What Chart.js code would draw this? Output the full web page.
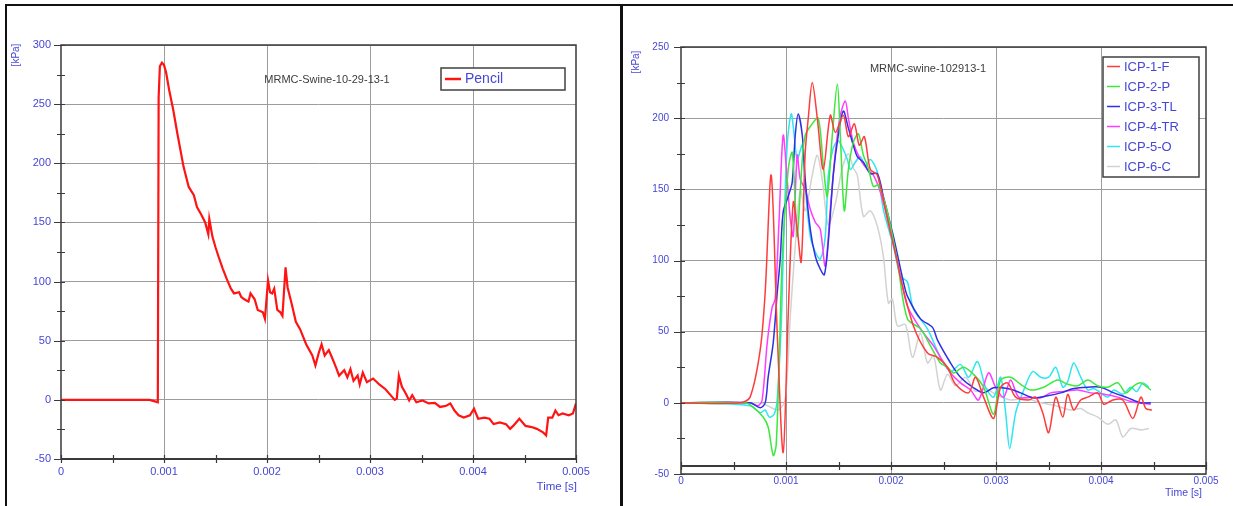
<!DOCTYPE html>
<html><head><meta charset="utf-8">
<script src="https://cdn.jsdelivr.net/npm/chart.js@4.4.1/dist/chart.umd.min.js"></script>
<style>
html,body{margin:0;padding:0;background:#fff;width:1233px;height:506px;overflow:hidden;}
.pane{position:absolute;top:0;height:506px;}
#p1{left:0;width:620px}
#p2{left:622px;width:611px}
.ln{position:absolute;background:#111;}
</style></head><body>
<div class="ln" style="left:5px;top:4px;width:1228px;height:2px"></div>
<div class="ln" style="left:5px;top:4px;width:2px;height:502px"></div>
<div class="ln" style="left:620px;top:4px;width:3px;height:502px"></div>
<div class="pane" id="p1"><canvas id="c1" width="620" height="506"></canvas></div>
<div class="pane" id="p2"><canvas id="c2" width="611" height="506"></canvas></div>
<script>
// ---------- DATA: left panel ----------
const leftTitle = 'MRMC-Swine-10-29-13-1';
const pencilLabel = 'Pencil';
const pencilT = [0,0.0005,0.00086,0.00092,0.00094,0.000948,0.00096,0.00098,0.001,0.00102,0.00105,0.00109,0.00113,0.00119,0.00124,0.00129,0.00132,0.00136,0.0014,0.00143,0.00144,0.00147,0.0015,0.00153,0.00157,0.00161,0.00165,0.00168,0.00173,0.00175,0.00178,0.00182,0.00184,0.00188,0.00191,0.00196,0.00198,0.00201,0.00203,0.00205,0.00207,0.0021,0.00213,0.00215,0.00218,0.0022,0.00224,0.00228,0.00232,0.00238,0.00244,0.00247,0.0025,0.00253,0.00256,0.0026,0.00263,0.00267,0.0027,0.00275,0.00278,0.00281,0.00284,0.00288,0.0029,0.00293,0.00297,0.00303,0.00309,0.00315,0.0032,0.00324,0.00326,0.00328,0.00331,0.00335,0.00338,0.00341,0.00345,0.00351,0.00357,0.00363,0.00368,0.00374,0.00378,0.00382,0.00386,0.00391,0.00397,0.00401,0.00405,0.00411,0.00416,0.0042,0.00426,0.00432,0.00436,0.00439,0.00445,0.00451,0.00457,0.00462,0.00468,0.00471,0.00473,0.00477,0.0048,0.00483,0.00487,0.00493,0.00497,0.005];
const pencilV = [0,0,0,-1.5,-2,256,282,285,283,277,262,245,225,197,180,173,163,157,150,140,153,138,129,121,111,102,94,90,91,87,85,83,90,85,76,74,68.5,101,91,90,94,76,74,71,112,95,81,66,60,47,37.5,29,39,47,37.5,42,36,27.5,20.5,25,19,26,16,20.5,13,23,15,18,13,9,4,0,1,20.5,11,5,-0.5,4,-2,-0.5,-3,-2.5,-6,-5,-3,-9,-13,-15,-13,-7.5,-16,-15,-16,-20.5,-19,-20.5,-24.5,-22,-16,-22,-23,-24.5,-27.5,-30,-15,-15,-9,-13,-11.5,-13,-11.5,-3];
const leftYTicks = {min:-50, max:300, major:50, minor:25};
const leftXTicks = {min:0, max:0.005, major:0.001, minor:0.0005};

// ---------- DATA: right panel ----------
const rightTitle = 'MRMC-swine-102913-1';
const icpLabels = ['ICP-1-F','ICP-2-P','ICP-3-TL','ICP-4-TR','ICP-5-O','ICP-6-C'];
const icp1T = [0,0.000563,0.000658,0.000754,0.000802,0.000859,0.000916,0.000973,0.00102,0.001069,0.001107,0.001145,0.001183,0.001212,0.00125,0.001298,0.001355,0.001422,0.00147,0.001546,0.001594,0.001651,0.001698,0.001746,0.001803,0.00187,0.001966,0.002061,0.00209,0.002214,0.002347,0.002443,0.002538,0.002615,0.002739,0.002805,0.002882,0.002977,0.003044,0.003111,0.003187,0.003311,0.003378,0.003445,0.003502,0.003569,0.003636,0.003683,0.00374,0.003807,0.003874,0.003969,0.004027,0.004113,0.004208,0.004303,0.00438,0.004427,0.004485];
const icp1V = [0,0,4,37,78,160,50,-35,60,141,122,99,176,200,225,200,164,202,190,202,187,196,181,187,164,160,129,99,88,54,35,32,25,13,7,18,4,-11,11,14,4,2,4,-7,-21,4,-10,6,-5,2,4,7,-1,2,2,-11,4,-4,-5];
const icp2T = [0,0.00061,0.000687,0.000782,0.00083,0.000878,0.000906,0.000935,0.000964,0.001021,0.001059,0.001088,0.001107,0.001155,0.001183,0.00124,0.001307,0.001355,0.001393,0.001441,0.001489,0.001517,0.001555,0.001594,0.001641,0.001689,0.001737,0.001784,0.001832,0.00188,0.001966,0.002061,0.002156,0.002281,0.002376,0.002471,0.002538,0.002595,0.002691,0.002786,0.002882,0.002977,0.003044,0.003139,0.003235,0.00333,0.003454,0.003588,0.003683,0.003779,0.003874,0.003969,0.004065,0.00416,0.004237,0.004313,0.00438,0.004475];
const icp2V = [0,0,-3,-10,-17,-37,-30,30,101,164,176,141,117,171,188,195,200,167,145,188,224,188,135,164,183,189,174,165,152,153,134,99,59,52,40,28,25,21,25,20,11,-8,16,18,13,9,11,16,13,12,16,12,11,14,7,12,14,9];
const icp3T = [0,0.000658,0.000754,0.000802,0.00083,0.000878,0.000916,0.000945,0.000973,0.001021,0.001059,0.001088,0.001116,0.001155,0.001183,0.001231,0.001279,0.001326,0.001365,0.001403,0.00145,0.001498,0.001546,0.001594,0.001641,0.001679,0.001737,0.001803,0.00187,0.001927,0.002023,0.002118,0.002156,0.002281,0.002395,0.002443,0.002567,0.002662,0.002786,0.002882,0.002977,0.003111,0.003235,0.003359,0.003492,0.003616,0.00374,0.003874,0.003998,0.004122,0.004256,0.00438,0.004475];
const icp3V = [0,0,-3.5,0,18,42,77,101,134,145,155,188,203,188,157,122,103,94,90,113,160,188,205,193,181,173,169,161,161,145,117,85,75,59,53,44,28,18,10.6,7,10.6,10,7,3.5,5,7,10,11,11,7,3.5,0,0];
const icp4T = [0,0.000658,0.000735,0.000773,0.000821,0.000868,0.000897,0.000935,0.000973,0.001011,0.00104,0.001069,0.001107,0.001136,0.001183,0.001231,0.001279,0.001326,0.001374,0.001422,0.00147,0.001517,0.001565,0.001594,0.001641,0.001708,0.001775,0.001832,0.001899,0.001994,0.00209,0.002156,0.002281,0.002405,0.002471,0.002567,0.002662,0.002758,0.002834,0.002929,0.002996,0.003073,0.003139,0.003216,0.00333,0.003426,0.003521,0.003645,0.003779,0.003903,0.004027,0.00416,0.004284,0.004475];
const icp4V = [0,0,-2,2,42,67,73,130,188,157,130,117,174,157,150,136,127,122,96,136,176,202,212,200,183,171,164,160,148,122,89,68,52,40,32,21,14,9,2,21,11,4,16,4,4,3.5,7,8,9,7,6,4,1,-1];
const icp5T = [0,0.000658,0.000754,0.000802,0.00084,0.000887,0.000916,0.000954,0.000973,0.001011,0.00105,0.001078,0.001107,0.001155,0.001183,0.001231,0.001279,0.001326,0.001374,0.001403,0.00145,0.001498,0.001546,0.001584,0.001613,0.00166,0.001708,0.001756,0.001803,0.00187,0.001927,0.002023,0.00209,0.002156,0.002214,0.002347,0.002471,0.002567,0.002662,0.002739,0.002824,0.002901,0.002977,0.003044,0.003092,0.00313,0.003187,0.003254,0.003349,0.003426,0.003502,0.003569,0.003636,0.003683,0.00374,0.003807,0.003874,0.003931,0.003998,0.004065,0.004122,0.004208,0.004284,0.00434,0.004399,0.004456];
const icp5V = [0,-2,-7,-5,-10,-8,2,54,101,181,203,188,171,181,152,117,106,101,117,160,179,184,178,171,164,169,173,166,171,162,136,110,89,85,66,52,32,22,27,18,29,11,4,18,-7,-32,-7,7,22,18,18,25,11,15,28,18,9,10,7,4,9,6,11,8,14,11];
const icp6T = [0,0.000754,0.00085,0.000926,0.000992,0.00104,0.001088,0.001136,0.001183,0.00125,0.001298,0.001345,0.001403,0.00147,0.001536,0.001594,0.001641,0.001679,0.001737,0.001803,0.00187,0.001927,0.001975,0.002013,0.002061,0.002137,0.002204,0.002281,0.002347,0.002405,0.002471,0.002538,0.002615,0.00271,0.002805,0.002901,0.002996,0.003139,0.003282,0.003426,0.003569,0.003712,0.003807,0.003874,0.003969,0.004065,0.004141,0.004208,0.004284,0.00438,0.004456];
const icp6V = [0,0,-3,-5,2,60,110,150,135,160,174,157,125,140,165,175,165,160,131,135,124,103,70,73,54,55,32,49,28,33,9,20,12,18,8,10,6,2,3,0,-2,-5,-4,-7,-10,-15,-12,-24,-18,-19,-18];
const icpColors = ['#ff3b3b','#3ce83c','#2f2fe6','#ff3cff','#2ee6f0','#d2d2d2'];
const rightYTicks = {min:-50, max:250, major:50, minor:25};
const rightXTicks = {min:0, max:0.005, major:0.001, minor:0.0005};

const yUnit = '[kPa]';
const xUnit = 'Time [s]';

// ---------- helpers ----------
const zip = (t, v) => t.map((x, i) => ({x: x, y: v[i]}));
const isMajor = (v, step) => Math.abs(Math.round(v / step) * step - v) < step * 1e-6;
const TICK_BLUE = '#4646d6';
const GRID = '#9c9c9c';
const BOX = '#3a3a3a';

const deco = {
  id: 'deco',
  afterDatasetsDraw(chart, args, o) {
    const ctx = chart.ctx, a = chart.chartArea, xs = chart.scales.x, ys = chart.scales.y;
    ctx.save();
    const axY = (o.xAxisAt == null) ? a.bottom : ys.getPixelForValue(o.xAxisAt);
    ctx.lineWidth = 1.5; ctx.strokeStyle = BOX;
    ctx.beginPath();
    ctx.moveTo(a.left, a.bottom); ctx.lineTo(a.left, a.top); ctx.lineTo(a.right, a.top); ctx.lineTo(a.right, a.bottom);
    ctx.lineTo(a.left, a.bottom);
    ctx.stroke();
    ctx.beginPath(); ctx.lineWidth = 2; ctx.moveTo(a.left, axY); ctx.lineTo(a.right, axY); ctx.stroke();
    ctx.lineWidth = 1.2;
    ctx.beginPath();
    ys.ticks.forEach(t => {
      const y = Math.round(ys.getPixelForValue(t.value)) + 0.5;
      const mj = isMajor(t.value, o.yMajor);
      ctx.moveTo(a.left - (mj ? 7 : 4), y); ctx.lineTo(a.left + 4, y);
    });
    xs.ticks.forEach(t => {
      const x = Math.round(xs.getPixelForValue(t.value)) + 0.5;
      ctx.moveTo(x, axY - 4); ctx.lineTo(x, axY + 4);
    });
    ctx.stroke();
    ctx.restore();
  },
  afterDraw(chart, args, o) {
    const ctx = chart.ctx, a = chart.chartArea;
    ctx.save();
    // title inside plot
    ctx.fillStyle = '#3c3c3c';
    ctx.font = '11px "Liberation Sans", Arial, sans-serif';
    ctx.textAlign = 'center'; ctx.textBaseline = 'middle';
    ctx.fillText(o.title, o.titleX, o.titleY);
    // axis units
    ctx.fillStyle = TICK_BLUE;
    ctx.font = o.unitFont;
    ctx.textAlign = 'right';
    ctx.fillText(xUnit, o.xUnitX, o.xUnitY);
    ctx.save();
    ctx.font = '10px "Liberation Sans", Arial, sans-serif';
    ctx.translate(o.yUnitX, o.yUnitY); ctx.rotate(-Math.PI / 2);
    ctx.textAlign = 'center';
    ctx.fillText(yUnit, 0, 0);
    ctx.restore();
    // legend box
    const L = o.legend;
    ctx.fillStyle = '#ffffff';
    ctx.fillRect(L.x, L.y, L.w, L.h);
    ctx.strokeStyle = '#404040'; ctx.lineWidth = 1.5;
    ctx.strokeRect(L.x, L.y, L.w, L.h);
    ctx.font = L.font;
    ctx.textAlign = 'left'; ctx.textBaseline = 'middle';
    chart.data.datasets.forEach((ds, i) => {
      const yy = L.y + L.first + i * L.step;
      ctx.strokeStyle = ds.borderColor; ctx.lineWidth = L.lw;
      ctx.beginPath(); ctx.moveTo(L.x + 4, yy); ctx.lineTo(L.x + 4 + L.sw, yy); ctx.stroke();
      ctx.fillStyle = TICK_BLUE;
      ctx.fillText(ds.label, L.x + 8 + L.sw, yy + 0.5);
    });
    ctx.restore();
  }
};

function makeScales(xt, yt, fontPx, xPad, yPad) {
  const font = {family: '"Liberation Sans", Arial, sans-serif', size: fontPx};
  return {
    x: {
      type: 'linear', min: xt.min, max: xt.max,
      afterFit: s => { s.height = 20; },
      border: {display: false},
      grid: {drawTicks: false, lineWidth: 1,
        color: c => isMajor(c.tick.value, xt.major) && c.tick.value > xt.min && c.tick.value < xt.max ? GRID : 'rgba(0,0,0,0)'},
      ticks: {stepSize: xt.minor, autoSkip: false, maxRotation: 0, padding: xPad, color: TICK_BLUE, font: font,
        callback: v => isMajor(v, xt.major) ? (Math.abs(v) < 1e-12 ? '0' : v.toFixed(3)) : ''}
    },
    y: {
      type: 'linear', min: yt.min, max: yt.max,
      afterFit: s => { s.width = 40; },
      border: {display: false},
      grid: {drawTicks: false, lineWidth: 1,
        color: c => isMajor(c.tick.value, yt.major) ? GRID : 'rgba(0,0,0,0)'},
      ticks: {stepSize: yt.minor, autoSkip: false, padding: yPad, color: TICK_BLUE, font: font,
        callback: v => isMajor(v, yt.major) ? String(Math.round(v)) : ''}
    }
  };
}

// ---------- left chart ----------
new Chart(document.getElementById('c1'), {
  type: 'line',
  data: {datasets: [{label: pencilLabel, data: zip(pencilT, pencilV), borderColor: '#ff1414',
    borderWidth: 2.2, pointRadius: 0, tension: 0, fill: false}]},
  options: {
    responsive: false, animation: false, events: [],
    layout: {padding: {left: 21, right: 44, top: 45, bottom: 27}},
    scales: makeScales(leftXTicks, leftYTicks, 11, 6, 10),
    plugins: {
      legend: {display: false}, tooltip: {enabled: false},
      deco: {title: leftTitle, titleX: 327, titleY: 80, yMajor: 50, xAxisAt: null,
        xUnitX: 577, xUnitY: 487, yUnitX: 16, yUnitY: 55,
        unitFont: '11.5px "Liberation Sans", Arial, sans-serif',
        legend: {x: 441, y: 68, w: 124, h: 22, first: 11, step: 20, sw: 16, lw: 2.5,
          font: '14px "Liberation Sans", Arial, sans-serif'}}
    }
  },
  plugins: [deco]
});

// ---------- right chart ----------
const rightT = [icp1T, icp2T, icp3T, icp4T, icp5T, icp6T];
const rightV = [icp1V, icp2V, icp3V, icp4V, icp5V, icp6V];
new Chart(document.getElementById('c2'), {
  type: 'line',
  data: {datasets: icpLabels.map((lab, i) => ({label: lab, data: zip(rightT[i], rightV[i]),
    borderColor: icpColors[i], borderWidth: 1.5, pointRadius: 0, tension: 0.3, fill: false,
    order: i === 5 ? 10 : i}))},
  options: {
    responsive: false, animation: false, events: [],
    layout: {padding: {left: 19, right: 27, top: 47, bottom: 12}},
    scales: makeScales(rightXTicks, rightYTicks, 10, 1, 12),
    plugins: {
      legend: {display: false}, tooltip: {enabled: false},
      deco: {title: rightTitle, titleX: 306, titleY: 69, yMajor: 50, xAxisAt: -44.4,
        xUnitX: 580, xUnitY: 493, yUnitX: 14, yUnitY: 62,
        unitFont: '10.5px "Liberation Sans", Arial, sans-serif',
        legend: {x: 481, y: 57, w: 96, h: 120, first: 9.5, step: 20, sw: 13, lw: 1.5,
          font: '13px "Liberation Sans", Arial, sans-serif'}}
    }
  },
  plugins: [deco]
});
</script>
</body></html>
